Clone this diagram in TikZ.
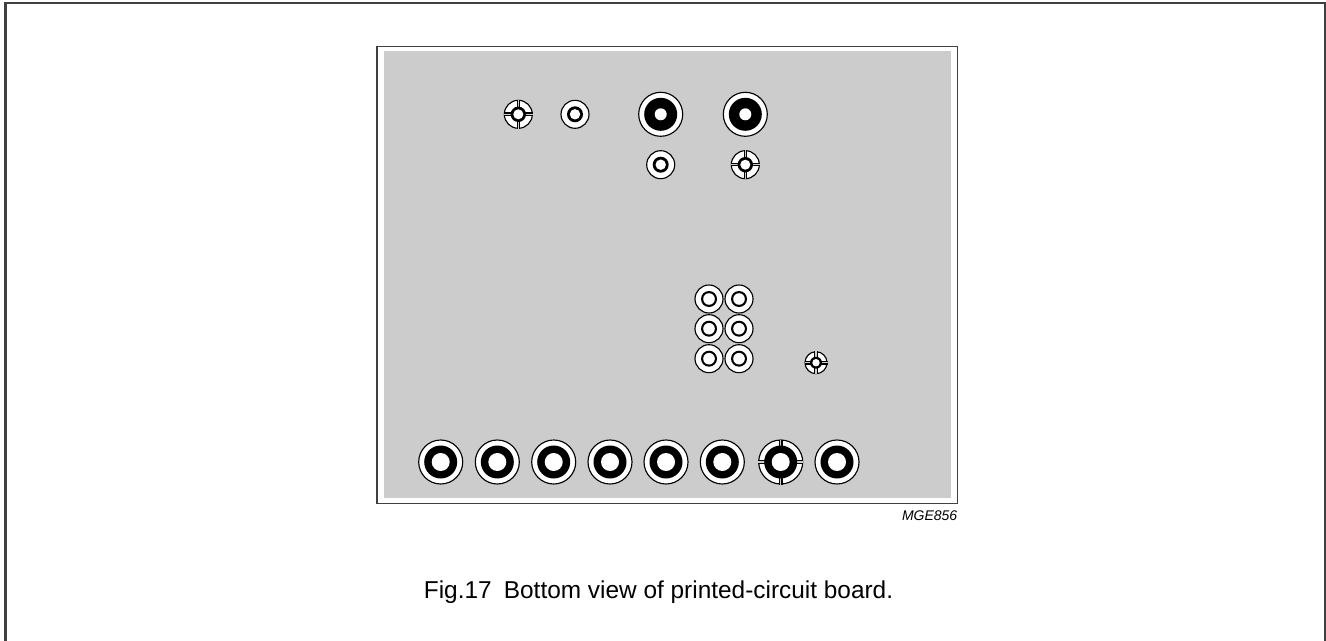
\documentclass[tikz,border=0pt]{standalone}
\usepackage{fontspec}
\setmainfont{Liberation Sans}
\definecolor{board}{HTML}{CCCCCC}
\definecolor{edge}{HTML}{404040}
\tikzset{
  x=0.75pt,y=-0.75pt,
  rim/.style={draw=black,line width=0.85pt,fill=white},
  pics/plainpad/.style args={#1/#2/#3}{code={
    \path[rim] (0,0) circle[radius=#1];
    \fill[black] (0,0) circle[radius=#2];
    \fill[white] (0,0) circle[radius=#3];
  }},
  pics/thermal/.style args={#1/#2/#3}{code={
    \path[rim] (0,0) circle[radius=#1];
    \draw[black,line width=2.7pt] (-#1-0.5,0) -- (#1+0.5,0) (0,-#1-0.5) -- (0,#1+0.5);
    \draw[board,line width=0.9pt] (-#1-0.5,0) -- (#1+0.5,0) (0,-#1-0.5) -- (0,#1+0.5);
    \fill[black] (0,0) circle[radius=#2];
    \fill[white] (0,0) circle[radius=#3];
  }},
}
\begin{document}
\begin{tikzpicture}
\useasboundingbox (0,0) rectangle (1326,641);
% outer frame, open at the bottom
\draw[edge,line width=1.6pt] (5.5,641) -- (5.5,3) -- (1325,3) -- (1325,641);
% board
\draw[edge,line width=1.1pt] (377,46.5) rectangle (957.5,503.5);
\fill[board] (384,51) rectangle (951,498);
% top pads
\pic at (518.3,114.3) {thermal={14/7.7/5}};
\pic at (575,114.3) {plainpad={14/8/5.2}};
\pic at (660.7,114.3) {plainpad={22/16.5/6}};
\pic at (745.3,114.3) {plainpad={22/16.5/6}};
\pic at (660.7,164.7) {plainpad={14/8/5.2}};
\pic at (745.3,164.7) {thermal={14/7.7/5}};
% pad block
\foreach \px in {709,739}
  \foreach \py in {299,328.7,358.7}
    \pic at (\px,\py) {plainpad={14/8/5.8}};
\pic at (816,362.7) {thermal={11/6/3.7}};
% bottom row
\foreach \px in {440.7,497.3,553.7,610,666,722.3,837}
  \pic at (\px,462) {plainpad={22/16.5/9}};
\pic at (780.7,462) {thermal={22/16.5/9}};
% texts
\node[anchor=east,inner sep=0pt,font=\itshape\fontsize{10.5}{12}\selectfont] (code) at (957.5,516) {MGE856};
\node[anchor=center,inner sep=0pt,font=\fontsize{18.3}{22}\selectfont] (caption) at (658.5,592) {Fig.17\hspace{0.5em}Bottom view of printed-circuit board.};
\end{tikzpicture}
\end{document}
